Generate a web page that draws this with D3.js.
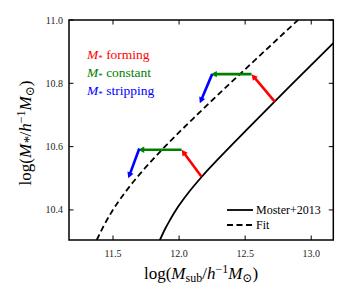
<!DOCTYPE html>
<html>
<head>
<meta charset="utf-8">
<script src="https://cdn.jsdelivr.net/npm/d3@7"></script>
<style>
body { margin: 0; background: #fff; }
text { font-family: "Liberation Serif", "DejaVu Serif", "Times New Roman", serif; }
.tick-label { font-size: 10px; fill: #222; }
.axis-label { font-size: 17px; fill: #000; }
.note { font-size: 13.5px; }
.legend-text { font-size: 12px; fill: #000; }
</style>
</head>
<body>
<div id="chart"></div>
<script>
// Moster+2013 relation
var mosterX = [11.855, 11.893, 11.931, 11.991, 12.066, 12.170, 12.308, 12.535, 12.837, 13.167];
var mosterY = [10.305, 10.339, 10.368, 10.409, 10.452, 10.504, 10.566, 10.663, 10.790, 10.927];
// Fit relation
var fitX = [11.377, 11.424, 11.492, 11.591, 11.704, 11.870, 12.157, 12.535, 12.900];
var fitY = [10.305, 10.345, 10.395, 10.455, 10.514, 10.590, 10.709, 10.858, 11.000];

// arrows: start and end points
var arrowKind = ["forming", "constant", "stripping", "forming", "constant", "stripping"];
var arrowX0 = [12.170, 12.019, 11.699, 12.724, 12.548, 12.25];
var arrowY0 = [10.505, 10.590, 10.594, 10.742, 10.829, 10.829];
var arrowX1 = [12.019, 11.691, 11.616, 12.548, 12.240, 12.157];
var arrowY1 = [10.590, 10.590, 10.500, 10.829, 10.829, 10.737];

var xTicks = [11.5, 12.0, 12.5, 13.0];
var yTicks = [10.4, 10.6, 10.8, 11.0];

var kindColor = { forming: "#ff0000", constant: "#008000", stripping: "#0000ff" };
var noteLabels = ["forming", "constant", "stripping"];

var serif = "'Liberation Serif', 'DejaVu Serif', 'Times New Roman', serif";
var width = 350, height = 300;
var svg = d3.select("#chart").append("svg").attr("width", width).attr("height", height)
	.attr("font-family", serif);

var x = d3.scaleLinear().domain([11.167, 13.167]).range([69, 333.3]);
var y = d3.scaleLinear().domain([10.305, 11.0]).range([240, 20]);

svg.append("clipPath").attr("id", "plot-clip")
	.append("rect")
	.attr("x", x.range()[0]).attr("y", y.range()[1])
	.attr("width", x.range()[1] - x.range()[0])
	.attr("height", y.range()[0] - y.range()[1]);

var plot = svg.append("g").attr("clip-path", "url(#plot-clip)");

var line = d3.line().x(function(d) { return x(d[0]); }).y(function(d) { return y(d[1]); }).curve(d3.curveMonotoneX);

//Curves
plot.append("path")
	.datum(d3.zip(mosterX, mosterY))
	.attr("d", line)
	.style("fill", "none").style("stroke", "#000").style("stroke-width", 1.8);

plot.append("path")
	.datum(d3.zip(fitX, fitY))
	.attr("d", line)
	.style("fill", "none").style("stroke", "#000").style("stroke-width", 1.8)
	.style("stroke-dasharray", "6,3.5");

//Arrows
var headLen = 6, headW = 3.2;
arrowKind.forEach(function(k, i) {
	var sx = x(arrowX0[i]), sy = y(arrowY0[i]), ex = x(arrowX1[i]), ey = y(arrowY1[i]);
	var dx = ex - sx, dy = ey - sy, len = Math.sqrt(dx*dx + dy*dy);
	var ux = dx/len, uy = dy/len;
	var bx = ex - ux*headLen, by = ey - uy*headLen;
	plot.append("line")
		.attr("x1", sx).attr("y1", sy).attr("x2", bx + ux).attr("y2", by + uy)
		.style("stroke", kindColor[k]).style("stroke-width", 2.6);
	plot.append("path")
		.attr("d", "M" + ex + "," + ey +
			"L" + (bx - uy*headW) + "," + (by + ux*headW) +
			"L" + (bx + uy*headW) + "," + (by - ux*headW) + "Z")
		.style("fill", kindColor[k]);
});

//Frame and ticks
var axes = svg.append("g");
axes.append("rect")
	.attr("x", x.range()[0]).attr("y", y.range()[1])
	.attr("width", x.range()[1] - x.range()[0])
	.attr("height", y.range()[0] - y.range()[1])
	.style("fill", "none").style("stroke", "#000").style("stroke-width", 1.5);

var tickLen = 4.5;
xTicks.forEach(function(t) {
	axes.append("line").attr("x1", x(t)).attr("x2", x(t)).attr("y1", y.range()[0]).attr("y2", y.range()[0] - tickLen)
		.style("stroke", "#000").style("stroke-width", 1);
	axes.append("line").attr("x1", x(t)).attr("x2", x(t)).attr("y1", y.range()[1]).attr("y2", y.range()[1] + tickLen)
		.style("stroke", "#000").style("stroke-width", 1);
	axes.append("text").attr("class", "tick-label")
		.attr("x", x(t)).attr("y", 257)
		.style("text-anchor", "middle")
		.text(d3.format(".1f")(t));
});
yTicks.forEach(function(t) {
	axes.append("line").attr("x1", x.range()[0]).attr("x2", x.range()[0] + tickLen).attr("y1", y(t)).attr("y2", y(t))
		.style("stroke", "#000").style("stroke-width", 1);
	axes.append("line").attr("x1", x.range()[1]).attr("x2", x.range()[1] - tickLen).attr("y1", y(t)).attr("y2", y(t))
		.style("stroke", "#000").style("stroke-width", 1);
	axes.append("text").attr("class", "tick-label")
		.attr("x", 63).attr("y", y(t)).attr("dy", "0.35em")
		.style("text-anchor", "end")
		.text(d3.format(".1f")(t));
});

//Axis labels
function mathLabel(sel, sub) {
	sel.append("tspan").text("log(");
	sel.append("tspan").style("font-style", "italic").text("M");
	sel.append("tspan").attr("dy", 3).style("font-size", sub === "*" ? "15px" : "12px")
		.style("font-style", sub === "*" ? "italic" : "normal").text(sub);
	sel.append("tspan").attr("dy", -3).text("/");
	sel.append("tspan").style("font-style", "italic").text("h");
	sel.append("tspan").attr("dy", -6).style("font-size", "12px").text("\u22121");
	sel.append("tspan").attr("dy", 6).style("font-style", "italic").text("M");
	sel.append("tspan").attr("dy", 3).style("font-size", "12px").text("\u2299");
	sel.append("tspan").attr("dy", -3).text(")");
}

svg.append("text").attr("class", "axis-label")
	.attr("x", 201).attr("y", 279)
	.style("text-anchor", "middle")
	.call(mathLabel, "sub");

svg.append("text").attr("class", "axis-label")
	.attr("transform", "translate(31,133) rotate(-90)")
	.style("text-anchor", "middle")
	.call(mathLabel, "*");

//Annotation labels
noteLabels.forEach(function(k, i) {
	var t = svg.append("text").attr("class", "note")
		.attr("x", 87).attr("y", 59 + i*18)
		.style("fill", kindColor[k]);
	t.append("tspan").style("font-style", "italic").text("M");
	t.append("tspan").attr("dy", 2).style("font-size", "9px").text("*");
	t.append("tspan").attr("dy", -2).text(" " + k);
});

//Legend
var legendNames = ["Moster+2013", "Fit"];
var legendDash = ["none", "6,3.5"];
legendNames.forEach(function(n, i) {
	var ly = 210 + i*15;
	svg.append("line").attr("x1", 227).attr("x2", 253).attr("y1", ly).attr("y2", ly)
		.style("stroke", "#000").style("stroke-width", 1.8).style("stroke-dasharray", legendDash[i]);
	svg.append("text").attr("class", "legend-text")
		.attr("x", 256).attr("y", ly).attr("dy", "0.35em")
		.text(n);
});
</script>
</body>
</html>
